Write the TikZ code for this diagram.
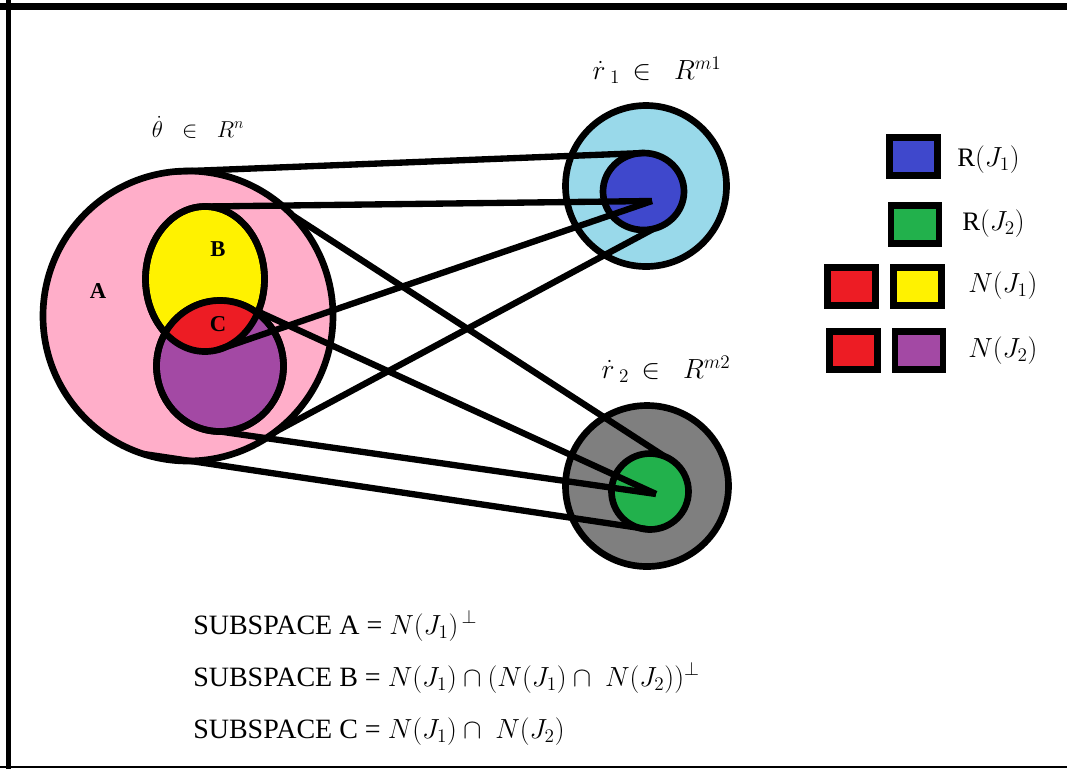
\documentclass[tikz,border=0pt]{standalone}
\usepackage{fontspec}
\setmainfont{Liberation Serif}
\usepackage{amsmath}
\usetikzlibrary{shapes.geometric}
\newlength\pxu
\setlength\pxu{0.75pt}
\definecolor{roseA}{RGB}{255,174,201}
\definecolor{yellowB}{RGB}{255,242,0}
\definecolor{redC}{RGB}{237,28,36}
\definecolor{purpleN}{RGB}{163,73,164}
\definecolor{skyR}{RGB}{153,217,234}
\definecolor{indigoR}{RGB}{63,72,204}
\definecolor{greyR}{RGB}{127,127,127}
\definecolor{greenR}{RGB}{34,177,76}
\newcommand{\bigmath}[1]{{\fontsize{20}{24}\selectfont$#1$}}

\begin{document}
\begin{tikzpicture}[x=0.75pt, y=-0.75pt,
    blob/.style={ellipse, draw, line width=5pt, inner sep=0pt, outer sep=0pt},
    link/.style={line width=4.75pt},
    legbox/.style={rectangle, draw, line width=5pt, inner sep=0pt,
      minimum width=48\pxu, minimum height=38\pxu},
    lbl/.style={inner sep=0pt},
    deftext/.style={lbl, anchor=base west, font=\fontsize{21}{24}\selectfont}]
    \useasboundingbox (0,0) rectangle (1067,769);
    % frame
    \draw[line width=5.25pt] (0,6) -- (1067,6);
    \draw[line width=3.75pt] (8.5,0) -- (8.5,769);
    \draw[line width=1.5pt] (0,767) -- (1067,767);
    % domain
    \node[blob, fill=roseA, minimum width=290\pxu, minimum height=290\pxu] (pink) at (188,316) {};
    \node[blob, fill=yellowB, minimum width=119\pxu, minimum height=145\pxu] (yellow) at (205,279) {};
    \node[blob, fill=purpleN, minimum width=127\pxu, minimum height=131\pxu] (purple) at (220,366) {};
    \begin{scope}
      \clip (205,279) ellipse [x radius=59.5, y radius=72.5];
      \fill[redC] (220,366) ellipse [x radius=63.5, y radius=65.5];
    \end{scope}
    \draw[line width=5pt] (205,279) ellipse [x radius=59.5, y radius=72.5];
    \draw[line width=5pt] (220,366) ellipse [x radius=63.5, y radius=65.5];
    % ranges
    \node[blob, fill=skyR, minimum width=161\pxu, minimum height=161\pxu] (sky) at (646,186) {};
    \node[blob, fill=indigoR, minimum width=81\pxu, minimum height=77\pxu] (blue) at (643.5,191.5) {};
    \node[blob, fill=greyR, minimum width=163\pxu, minimum height=161\pxu] (grey) at (647,486) {};
    \node[blob, fill=greenR, minimum width=77\pxu, minimum height=76\pxu] (green) at (650,491.5) {};
    \coordinate (r1) at (652,201);
    \coordinate (r2) at (656,494);
    \coordinate (cR) at (259,312);
    % mappings
    \draw[link] (pink.95) -- (blue.north);
    \draw[link] (yellow.north) -- (r1);
    \draw[link] (yellow.-80) -- (r1);
    \draw[link] (pink.-53) -- (blue.-75);
    \draw[link] (pink.44) -- (green.68);
    \draw[link] (cR) -- (r2);
    \draw[link] (purple.south) -- (r2);
    \draw[link] (pink.-108) -- (green.south);
    % subspace letters
    \node[lbl, font=\fontsize{17}{19}\selectfont\bfseries] (lA) at (98,291) {A};
    \node[lbl, font=\fontsize{17}{19}\selectfont\bfseries] (lB) at (218,249) {B};
    \node[lbl, font=\fontsize{17}{19}\selectfont\bfseries] (lC) at (218,324) {C};
    % space labels
    \node[lbl, font=\fontsize{17}{19}\selectfont] (theta) at (198,127) {$\dot{\theta}\;\;\in\;\;R^{n}$};
    \node[lbl, font=\fontsize{20}{22}\selectfont] (rone) at (657,70) {$\dot{r}_{\;1}\,\in\;\;R^{m1}$};
    \node[lbl, font=\fontsize{20}{22}\selectfont] (rtwo) at (666,369) {$\dot{r}_{\;2}\,\in\;\;R^{m2}$};
    % legend
    \node[legbox, fill=indigoR] (kRone) at (913.5,156.5) {};
    \node[legbox, fill=greenR] (kRtwo) at (915,224.5) {};
    \node[legbox, fill=redC] (kNoneA) at (851.5,286.5) {};
    \node[legbox, fill=yellowB] (kNoneB) at (917.5,286.5) {};
    \node[legbox, fill=redC] (kNtwoA) at (853.5,350.5) {};
    \node[legbox, fill=purpleN] (kNtwoB) at (919,350.5) {};
    \node[lbl, anchor=base west, font=\fontsize{20}{22}\selectfont] at (957,166) {R$(J_1)$};
    \node[lbl, anchor=base west, font=\fontsize{20}{22}\selectfont] at (962,230) {R$(J_2)$};
    \node[lbl, anchor=base west, font=\fontsize{20}{22}\selectfont] at (968,292) {$N(J_1)$};
    \node[lbl, anchor=base west, font=\fontsize{20}{22}\selectfont] at (968,357) {$N(J_2)$};
    % subspace definitions
    \node[deftext] (defA) at (193,634) {SUBSPACE A = \bigmath{N(J_1)^{\,\perp}}};
    \node[deftext] (defB) at (193,686) {SUBSPACE B = \bigmath{N(J_1)\cap(N(J_1)\cap\;N(J_2))^{\perp}}};
    \node[deftext] (defC) at (193,738) {SUBSPACE C = \bigmath{N(J_1)\cap\;N(J_2)}};
\end{tikzpicture}
\end{document}
